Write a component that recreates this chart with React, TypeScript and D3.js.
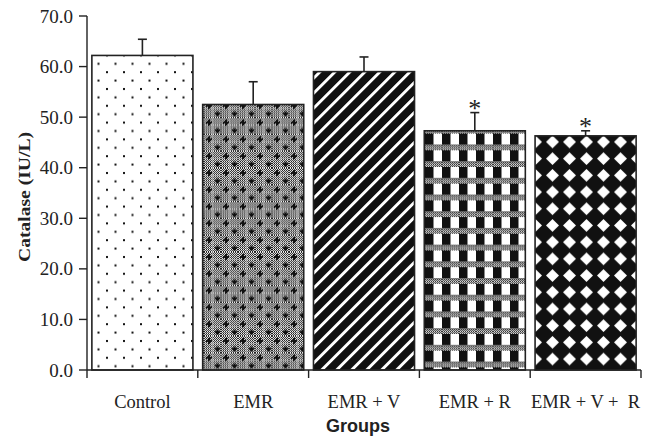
import React from "react";
import * as d3 from "d3";

// values
const groups = ["Control", "EMR", "EMR + V", "EMR + R", "EMR + V +  R"];
const catalase = [62.2, 52.5, 59.0, 47.3, 46.3];
const sdUpper = [3.2, 4.5, 2.9, 3.6, 1.0];
const significant = [false, false, false, true, true];
const yTicks = [0, 10, 20, 30, 40, 50, 60, 70];
const patternIds = ["dots", "checkPlus", "stripes", "blocks", "diamonds"];

const width = 656;
const height = 442;
const margin = { top: 16, right: 15, bottom: 72, left: 87 };

const serif = "'Liberation Serif', 'Times New Roman', serif";
const sans = "'Liberation Sans', Arial, sans-serif";

const App = () => {
  const x = d3
    .scaleBand<string>()
    .domain(groups)
    .range([margin.left, width - margin.right])
    .paddingInner(0.088)
    .paddingOuter(0.044);

  const y = d3
    .scaleLinear()
    .domain([0, 70])
    .range([height - margin.bottom, margin.top]);

  const fmt = d3.format(".1f");
  const step = x.step();
  const x0 = x.range()[0];
  const boundaries = d3.range(groups.length + 1).map((i) => x0 + i * step);
  const y0 = y(0);

  return (
    <svg
      width={width}
      height={height}
      style={{ position: "absolute", left: 0, top: 0, background: "#fff" }}
    >
      <defs>
        <pattern id="checker" width={2} height={2} patternUnits="userSpaceOnUse">
          <rect width={2} height={2} fill="#fff" />
          <rect width={1} height={1} fill="#111" />
          <rect x={1} y={1} width={1} height={1} fill="#111" />
        </pattern>

        <pattern id="dots" width={17} height={16.8} patternUnits="userSpaceOnUse">
          <rect width={17} height={16.8} fill="#fff" />
          <rect x={4} y={4} width={2} height={2} fill="#111" />
          <rect x={12.5} y={12.4} width={2} height={2} fill="#111" />
        </pattern>

        <pattern id="checkPlus" width={17} height={16.8} patternUnits="userSpaceOnUse">
          <rect width={17} height={16.8} fill="url(#checker)" />
          <rect x={0} y={7} width={17} height={1} fill="#bbb" opacity={0.6} />
          <rect x={8} y={0} width={1} height={16.8} fill="#bbb" opacity={0.6} />
          <rect x={2} y={4} width={6} height={2} fill="#111" />
          <rect x={4} y={2} width={2} height={6} fill="#111" />
          <rect x={11} y={12} width={5} height={2} fill="#111" />
          <rect x={12.5} y={10.5} width={2} height={5} fill="#111" />
        </pattern>

        <pattern
          id="stripes"
          width={10.6}
          height={10}
          patternUnits="userSpaceOnUse"
          patternTransform="rotate(45)"
        >
          <rect width={10.6} height={10} fill="#111" />
          <rect x={0} y={0} width={2.9} height={10} fill="#fff" />
        </pattern>

        <pattern id="blocks" width={17} height={16.7} patternUnits="userSpaceOnUse">
          <rect width={17} height={16.7} fill="#fff" />
          <rect x={0} y={0} width={8.5} height={11.2} fill="#111" />
          <rect x={0} y={11.2} width={17} height={5.5} fill="url(#checker)" />
          <rect x={0} y={11.2} width={17} height={1} fill="#555" />
        </pattern>

        <pattern id="diamonds" width={17} height={16.7} patternUnits="userSpaceOnUse">
          <rect width={17} height={16.7} fill="#111" />
          <polygon points="8.5,2 15,8.35 8.5,14.7 2,8.35" fill="#fff" />
        </pattern>
      </defs>

      {/* bars */}
      {groups.map((g, i) => (
        <rect
          key={g}
          x={x(g)}
          y={y(catalase[i])}
          width={x.bandwidth()}
          height={y0 - y(catalase[i])}
          fill={`url(#${patternIds[i]})`}
          stroke="#222"
          strokeWidth={1.6}
        />
      ))}

      {/* upper error bars */}
      {groups.map((g, i) => {
        const cx = (x(g) as number) + x.bandwidth() / 2;
        const top = y(catalase[i] + sdUpper[i]);
        return (
          <g key={g + "-err"} stroke="#222" strokeWidth={1.6}>
            <line x1={cx} x2={cx} y1={y(catalase[i])} y2={top} />
            <line x1={cx - 4.5} x2={cx + 4.5} y1={top} y2={top} />
          </g>
        );
      })}

      {/* significance marks */}
      {groups.map((g, i) =>
        significant[i] ? (
          <text
            key={g + "-sig"}
            x={(x(g) as number) + x.bandwidth() / 2}
            y={y(catalase[i] + sdUpper[i]) + 4}
            textAnchor="middle"
            fontFamily={serif}
            fontSize={26}
            fill="#222"
          >
            *
          </text>
        ) : null
      )}

      {/* y axis */}
      <line x1={margin.left} x2={margin.left} y1={y(70)} y2={y0} stroke="#222" strokeWidth={1.4} />
      {yTicks.map((t) => (
        <g key={t}>
          <line x1={margin.left - 8} x2={margin.left} y1={y(t)} y2={y(t)} stroke="#222" strokeWidth={1.4} />
          <text
            x={margin.left - 14}
            y={y(t) + 6.5}
            textAnchor="end"
            fontFamily={serif}
            fontSize={19}
            fill="#222"
          >
            {fmt(t)}
          </text>
        </g>
      ))}

      {/* x axis */}
      <line x1={boundaries[0]} x2={boundaries[groups.length]} y1={y0} y2={y0} stroke="#222" strokeWidth={1.4} />
      {boundaries.map((b, i) => (
        <line key={i} x1={b} x2={b} y1={y0} y2={y0 + 8} stroke="#222" strokeWidth={1.4} />
      ))}
      {groups.map((g) => (
        <text
          key={g + "-lab"}
          x={(x(g) as number) + x.bandwidth() / 2}
          y={408}
          textAnchor="middle"
          fontFamily={serif}
          fontSize={18.5}
          fill="#222"
          style={{ whiteSpace: "pre" }}
        >
          {g}
        </text>
      ))}

      {/* axis titles */}
      <text
        x={width / 2 + 30}
        y={432}
        textAnchor="middle"
        fontFamily={sans}
        fontWeight="bold"
        fontSize={18}
        fill="#222"
      >
        Groups
      </text>
      <text
        transform={`translate(30, 197) rotate(-90)`}
        textAnchor="middle"
        fontFamily={serif}
        fontWeight="bold"
        fontSize={17}
        textLength={130}
        lengthAdjust="spacingAndGlyphs"
        fill="#222"
      >
        Catalase (IU/L)
      </text>
    </svg>
  );
};

export default App;
